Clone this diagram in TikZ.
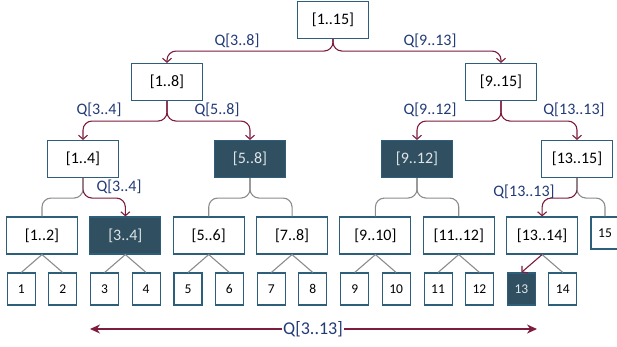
\documentclass[tikz,border=0pt]{standalone}
\usepackage{fontspec}
\setmainfont{Carlito}
\usepackage{tikz}
\usetikzlibrary{arrows.meta}
\definecolor{boxline}{RGB}{45,95,122}
\definecolor{boxfill}{RGB}{48,80,97}
\definecolor{qred}{RGB}{125,28,60}
\definecolor{qblue}{RGB}{34,58,118}
\definecolor{treegray}{RGB}{140,140,140}
\tikzstyle{whitebox}=[rectangle,draw=boxline,fill=white,line width=1.1pt,
                      inner sep=0pt,minimum width=71pt,minimum height=37pt,
                      font=\fontsize{16}{18}\selectfont]
\tikzstyle{darkbox}=[whitebox,fill=boxfill,text=white!85!boxfill]
\tikzstyle{leafbox}=[whitebox,minimum width=28pt,minimum height=32pt,
                     font=\fontsize{13.5}{15}\selectfont]
\tikzstyle{darkleaf}=[leafbox,fill=boxfill,text=white!85!boxfill]
\tikzstyle{qlink}=[draw=qred,line width=1.1pt,rounded corners=9pt,
                   -{Straight Barb[length=4pt,width=9pt]}]
\tikzstyle{glink}=[draw=treegray,line width=1.1pt,rounded corners=9pt]
\tikzstyle{fork}=[draw=treegray,line width=1.1pt]
\tikzstyle{qlabel}=[text=qblue,inner sep=1pt,font=\fontsize{16}{18}\selectfont]

\begin{document}
\begin{tikzpicture}[x=1pt,y=-1pt]
    \useasboundingbox (0,0) rectangle (617,346);
    \newcommand{\dx}{83.35}
    % upper levels
    \node (r1to15) at (333,20) [whitebox]{[1..15]};
    \node (r1to8) at (167,82) [whitebox]{[1..8]};
    \node (r9to15) at (501,82) [whitebox]{[9..15]};
    \node (r1to4) at (83,159) [whitebox]{[1..4]};
    \node (r5to8) at (250,159) [darkbox]{[5..8]};
    \node (r9to12) at (417,159) [darkbox]{[9..12]};
    \node (r13to15) at (577,159) [whitebox]{[13..15]};
    % pairs and leaves
    \foreach \k/\lo/\hi/\ms/\ls in {0/1/2/whitebox/leafbox,1/3/4/darkbox/leafbox,
        2/5/6/whitebox/leafbox,3/7/8/whitebox/leafbox,4/9/10/whitebox/leafbox,
        5/11/12/whitebox/leafbox,6/13/14/whitebox/darkleaf}{
      \node (m\lo) at (42+\dx*\k,235.5) [\ms]{[\lo..\hi]};
      \node (l\lo) at (42+\dx*\k-20.7,289) [\ls]{\lo};
      \node (l\hi) at (42+\dx*\k+20.7,289) [leafbox]{\hi};
    }
    \node (l15) at (605,233) [leafbox]{15};
    % query links
    \draw[qlink] (r1to15.south) -- ++(0,12) -| (r1to8.north);
    \draw[qlink] (r1to15.south) -- ++(0,12) -| (r9to15.north);
    \draw[qlink] (r1to8.south) -- ++(0,20) -| (r1to4.north);
    \draw[qlink] (r1to8.south) -- ++(0,20) -| (r5to8.north);
    \draw[qlink] (r9to15.south) -- ++(0,20) -| (r9to12.north);
    \draw[qlink] (r9to15.south) -- ++(0,20) -| (r13to15.north);
    \draw[qlink] (r1to4.south) -- ++(0,20) -| (m3.north);
    \draw[qlink] (r13to15.south) -- ++(0,20) -| (m13.north);
    \draw[qlink,rounded corners=0pt] (m13.south) -- (l13.north);
    % plain tree links
    \draw[glink] (r1to4.south) -- ++(0,20) -| (m1.north);
    \draw[glink] (r5to8.south) -- ++(0,20) -| (m5.north);
    \draw[glink] (r5to8.south) -- ++(0,20) -| (m7.north);
    \draw[glink] (r9to12.south) -- ++(0,20) -| (m9.north);
    \draw[glink] (r9to12.south) -- ++(0,20) -| (m11.north);
    \draw[glink] (r13to15.south) -- ++(0,20) -| (l15.north);
    \foreach \lo/\hi in {1/2,3/4,5/6,7/8,9/10,11/12}
      \draw[fork] (l\lo.north) -- (m\lo.south) -- (l\hi.north);
    \draw[fork] (m13.south) -- (l14.north);
    % query labels
    \node (q3to8) at (237,41) [qlabel]{Q[3..8]};
    \node (q9to13) at (430,41) [qlabel]{Q[9..13]};
    \node (q3to4) at (99,110) [qlabel]{Q[3..4]};
    \node (q5to8) at (217,110) [qlabel]{Q[5..8]};
    \node (q9to12) at (430,110) [qlabel]{Q[9..12]};
    \node (q13to13) at (574,110) [qlabel]{Q[13..13]};
    \node (q3to4b) at (119,187) [qlabel]{Q[3..4]};
    \node (q13to13b) at (524,192) [qlabel]{Q[13..13]};
    % whole range
    \coordinate (qa) at (90,329);
    \coordinate (qb) at (537,329);
    \node (q3to13) at (313,329) [qlabel,font=\fontsize{18}{20}\selectfont]{Q[3..13]};
    \draw[draw=qred,line width=1.4pt,-{Stealth[length=10pt,width=9pt]}] (q3to13) -- (qa);
    \draw[draw=qred,line width=1.4pt,-{Stealth[length=10pt,width=9pt]}] (q3to13) -- (qb);
\end{tikzpicture}
\end{document}
